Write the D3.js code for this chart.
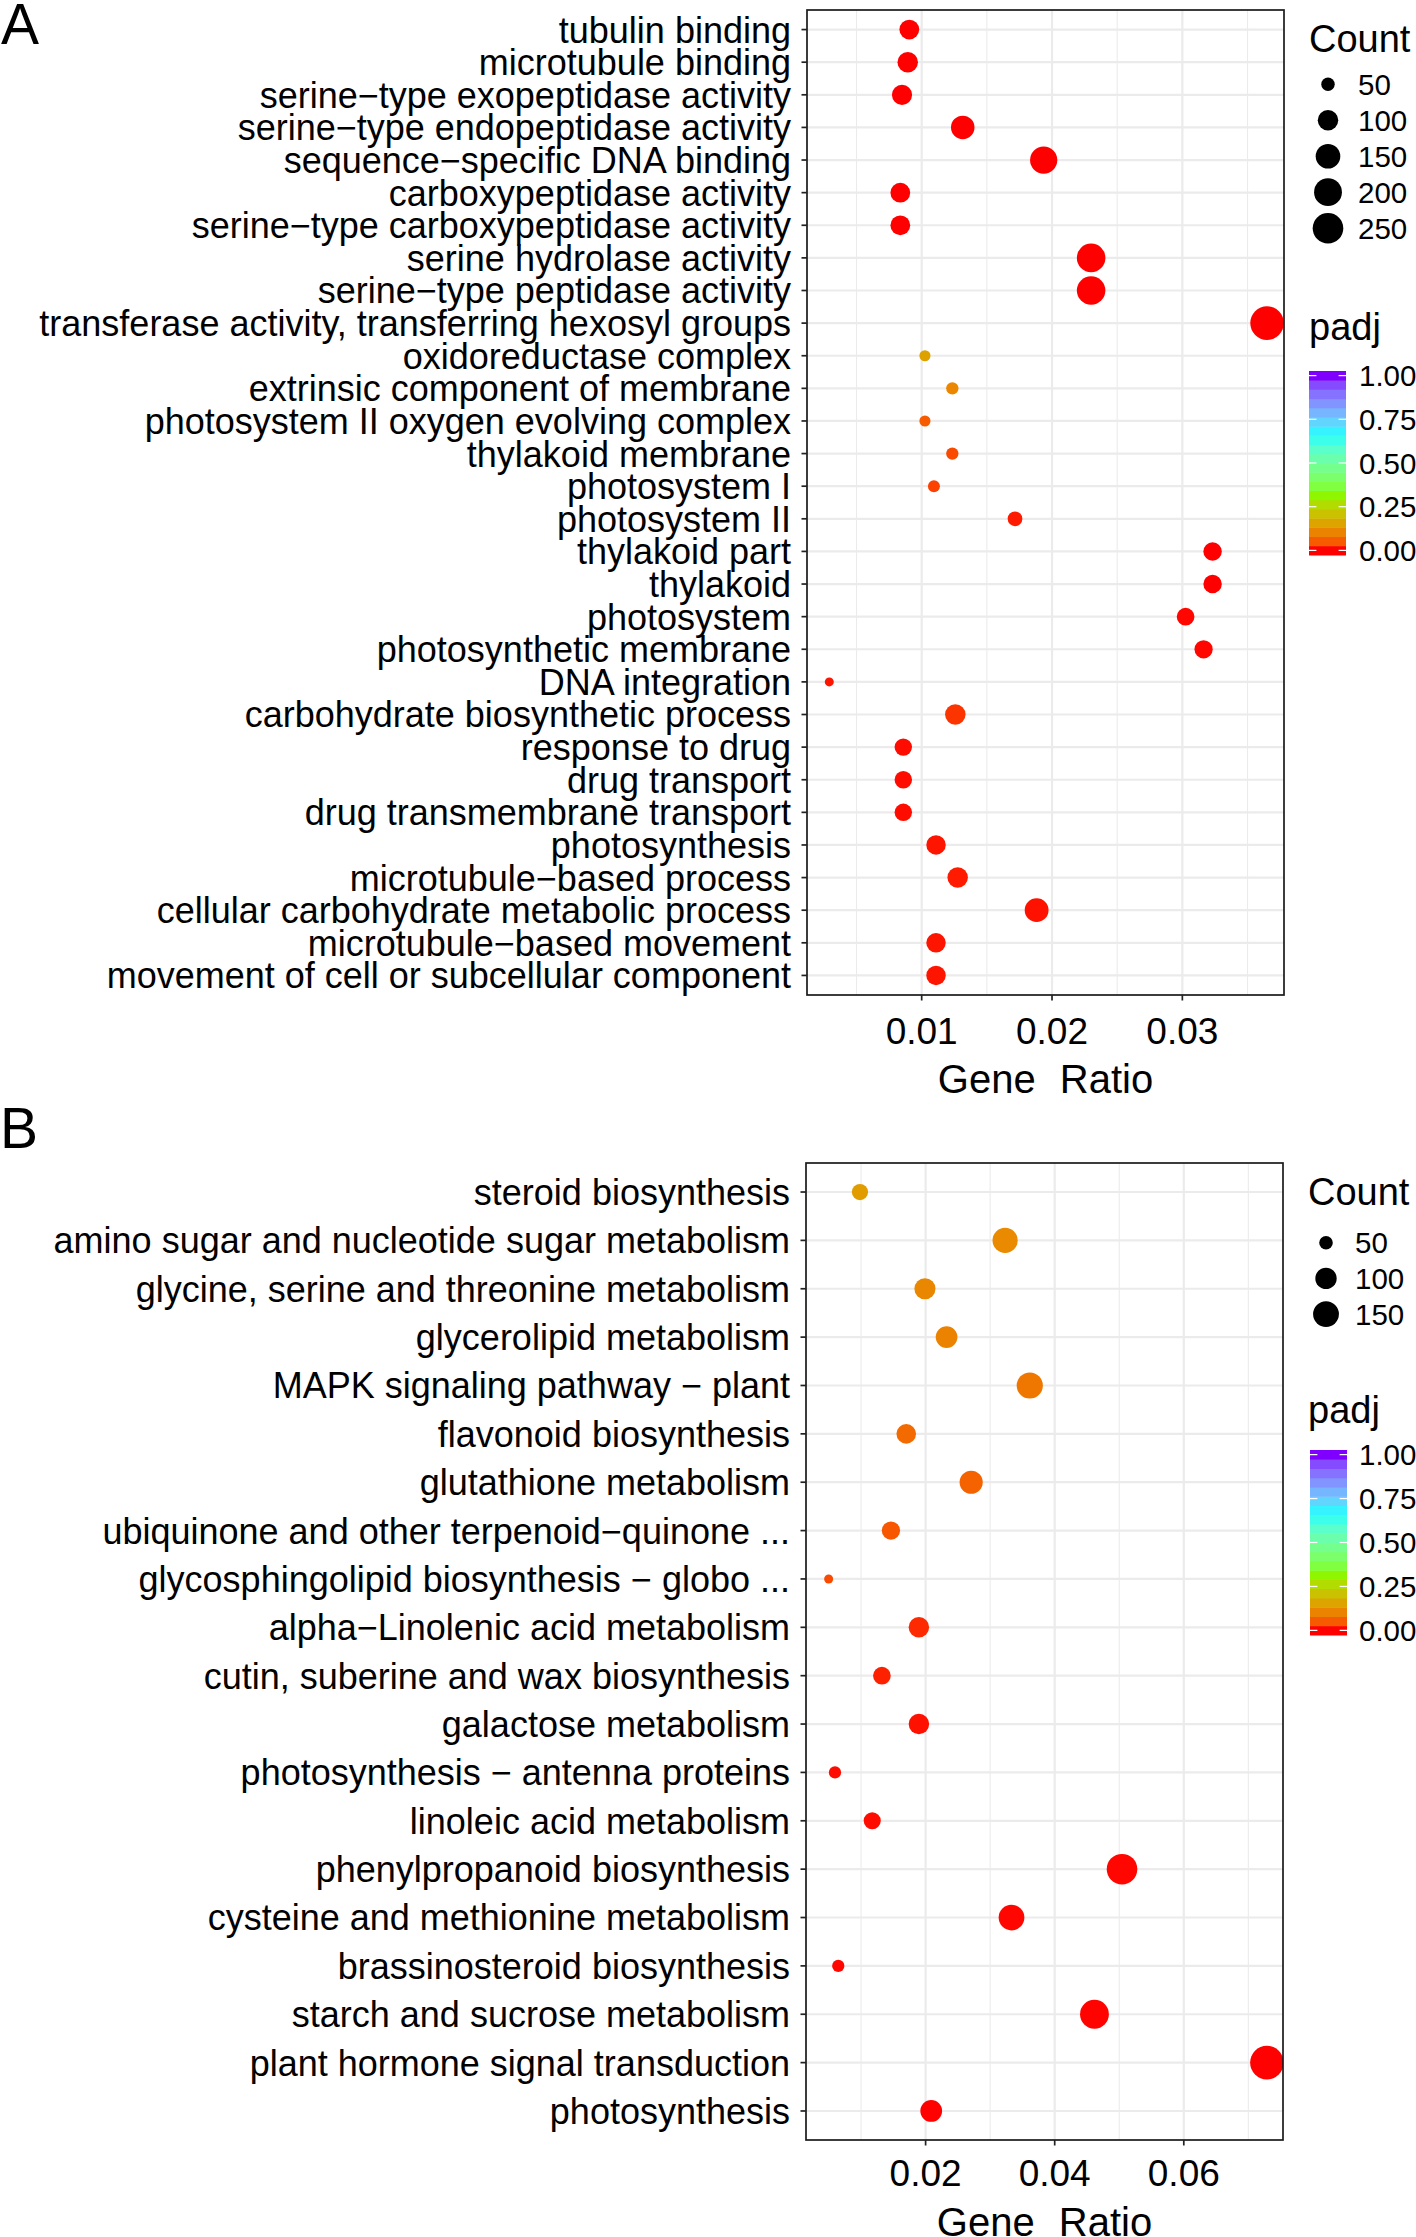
<!DOCTYPE html>
<html><head><meta charset="utf-8">
<script src="https://cdn.jsdelivr.net/npm/d3@7"></script>
<style>
body{margin:0;background:#fff}
svg{display:block}
text{font-family:"Liberation Sans",Arial,Helvetica,sans-serif;fill:#000}
</style>
</head><body>
<svg id="chart" width="1416" height="2237"></svg>
<script>
// ---------------- DATA ----------------
const termsA = [
  "tubulin binding","microtubule binding","serine\u2212type exopeptidase activity",
  "serine\u2212type endopeptidase activity","sequence\u2212specific DNA binding","carboxypeptidase activity",
  "serine\u2212type carboxypeptidase activity","serine hydrolase activity","serine\u2212type peptidase activity",
  "transferase activity, transferring hexosyl groups","oxidoreductase complex","extrinsic component of membrane",
  "photosystem II oxygen evolving complex","thylakoid membrane","photosystem I","photosystem II",
  "thylakoid part","thylakoid","photosystem","photosynthetic membrane","DNA integration",
  "carbohydrate biosynthetic process","response to drug","drug transport","drug transmembrane transport",
  "photosynthesis","microtubule\u2212based process","cellular carbohydrate metabolic process",
  "microtubule\u2212based movement","movement of cell or subcellular component"
];
const ratioA = [0.00905,0.00893,0.00849,0.01315,0.01936,0.00836,0.00836,0.0230,0.0230,0.0365,
  0.01025,0.01235,0.01025,0.01235,0.01094,0.01716,0.03232,0.03232,0.03025,0.03163,
  0.00291,0.01258,0.00859,0.00859,0.00859,0.0111,0.01276,0.01882,0.0111,0.0111];
const countA = [93,100,97,135,190,93,93,212,212,312,
  43,46,43,46,45,56,81,81,75,79,
  41,100,73,73,73,90,100,139,90,90];
const padjA = [0,0,0,0,0,0,0,0,0,0,
  0.155,0.11,0.052,0.035,0.028,0.006,0,0,0.001,0.001,
  0.004,0.018,0.002,0.002,0.002,0.004,0.006,0.003,0.004,0.004];
const xTicksA = [0.01,0.02,0.03];
const xMinorA = [0.005,0.015,0.025,0.035];
const countBreaksA = [50,100,150,200,250];

const termsB = [
  "steroid biosynthesis","amino sugar and nucleotide sugar metabolism","glycine, serine and threonine metabolism",
  "glycerolipid metabolism","MAPK signaling pathway \u2212 plant","flavonoid biosynthesis","glutathione metabolism",
  "ubiquinone and other terpenoid\u2212quinone ...","glycosphingolipid biosynthesis \u2212 globo ...",
  "alpha\u2212Linolenic acid metabolism","cutin, suberine and wax biosynthesis","galactose metabolism",
  "photosynthesis \u2212 antenna proteins","linoleic acid metabolism","phenylpropanoid biosynthesis",
  "cysteine and methionine metabolism","brassinosteroid biosynthesis","starch and sucrose metabolism",
  "plant hormone signal transduction","photosynthesis"
];
const ratioB = [0.00983,0.03232,0.0199,0.02325,0.03614,0.0170,0.02706,0.01463,0.00498,0.01896,
  0.01323,0.01896,0.00596,0.01173,0.05043,0.03331,0.00647,0.04616,0.07288,0.02087];
const countB = [62,142,98,104,155,85,118,75,42,92,71,92,46,67,219,149,46,192,273,104];
const padjB = [0.145,0.115,0.112,0.105,0.088,0.070,0.060,0.048,0.035,0.012,
  0.008,0.003,0.002,0.002,0.001,0.001,0.001,0.0005,0.0002,0.0001];
const xTicksB = [0.02,0.04,0.06];
const xMinorB = [0.01,0.03,0.05,0.07];
const countBreaksB = [50,100,150];

const padjBreaks = [0,0.25,0.5,0.75,1];
const padjColours = ["#FF0000","#80FF00","#00FFFF","#8000FF"]; // rainbow(4)

// ---------------- LAYOUT ----------------
const svg = d3.select("#chart");
const R_MIN = 4.5, R_MAX = 16.8;
const colour = d3.scaleLinear().domain([0,1/3,2/3,1]).range(padjColours).interpolate(d3.interpolateLab);

const panels = [
  {id:"A", terms:termsA, ratio:ratioA, count:countA, padj:padjA, ticks:xTicksA, minor:xMinorA, breaks:countBreaksA,
   left:807, right:1284, top:10, bottom:995, xdom:[0.0012,0.0378],
   labelX:791, tickBase:1044, titleBase:1093, tag:[1,43.5],
   legX:1309, countTitle:52, key0:84.2, keyStep:36, keyCx:1328, keyLx:1358,
   padjTitle:340, barTop:371, barBot:555, barX:1309, barW:37, barLx:1359},
  {id:"B", terms:termsB, ratio:ratioB, count:countB, padj:padjB, ticks:xTicksB, minor:xMinorB, breaks:countBreaksB,
   left:806, right:1283, top:1163, bottom:2140, xdom:[0.00147,0.07537],
   labelX:790, tickBase:2186, titleBase:2236, tag:[0,1148],
   legX:1308, countTitle:1205, key0:1242.7, keyStep:35.7, keyCx:1326, keyLx:1355,
   padjTitle:1423, barTop:1450, barBot:1635, barX:1310, barW:37, barLx:1359}
];

panels.forEach(p => {
  const g = svg.append("g");
  const x = d3.scaleLinear().domain(p.xdom).range([p.left, p.right]);
  const y = d3.scalePoint().domain(p.terms).range([p.top, p.bottom]).padding(0.6);
  const ext = d3.extent(p.count);
  const tc = d3.scaleLinear().domain(ext).range([0,1]).clamp(true);
  const rs = d3.scaleLinear().domain([0,1]).range([R_MIN, R_MAX]);
  const rad = c => rs(Math.sqrt(tc(c)));

  const clipId = "clip" + p.id;
  g.append("clipPath").attr("id", clipId).append("rect")
    .attr("x", p.left).attr("y", p.top).attr("width", p.right - p.left).attr("height", p.bottom - p.top);

  g.selectAll(".minor").data(p.minor).join("line")
    .attr("x1", d => x(d)).attr("x2", d => x(d)).attr("y1", p.top).attr("y2", p.bottom)
    .attr("stroke", "#EBEBEB").attr("stroke-width", 1.1);
  g.selectAll(".majx").data(p.ticks).join("line")
    .attr("x1", d => x(d)).attr("x2", d => x(d)).attr("y1", p.top).attr("y2", p.bottom)
    .attr("stroke", "#EBEBEB").attr("stroke-width", 2.2);
  g.selectAll(".majy").data(p.terms).join("line")
    .attr("x1", p.left).attr("x2", p.right).attr("y1", d => y(d)).attr("y2", d => y(d))
    .attr("stroke", "#EBEBEB").attr("stroke-width", 2.2);

  const pts = p.terms.map((t, i) => ({t, r: p.ratio[i], c: p.count[i], q: p.padj[i]}));
  g.append("g").attr("clip-path", `url(#${clipId})`)
    .selectAll("circle").data(pts).join("circle")
    .attr("cx", d => x(d.r)).attr("cy", d => y(d.t)).attr("r", d => rad(d.c))
    .attr("fill", d => colour(d.q));

  g.append("rect").attr("x", p.left).attr("y", p.top)
    .attr("width", p.right - p.left).attr("height", p.bottom - p.top)
    .attr("fill", "none").attr("stroke", "#1a1a1a").attr("stroke-width", 1.7);

  g.selectAll(".yt").data(p.terms).join("line")
    .attr("x1", p.left - 5.5).attr("x2", p.left).attr("y1", d => y(d)).attr("y2", d => y(d))
    .attr("stroke", "#222").attr("stroke-width", 1.7);
  g.selectAll(".yl").data(p.terms).join("text")
    .attr("x", p.labelX).attr("y", d => y(d)).attr("dy", "0.36em")
    .attr("text-anchor", "end").style("font-size", "36px").text(d => d);

  g.selectAll(".xt").data(p.ticks).join("line")
    .attr("x1", d => x(d)).attr("x2", d => x(d)).attr("y1", p.bottom).attr("y2", p.bottom + 5.5)
    .attr("stroke", "#222").attr("stroke-width", 1.7);
  g.selectAll(".xl").data(p.ticks).join("text")
    .attr("x", d => x(d)).attr("y", p.tickBase).attr("text-anchor", "middle")
    .style("font-size", "37px").text(d => d3.format(".2f")(d));
  g.append("text").attr("x", (p.left + p.right) / 2).attr("y", p.titleBase)
    .attr("text-anchor", "middle").style("font-size", "40px").style("word-spacing", "13px")
    .text("Gene Ratio");

  g.append("text").attr("x", p.tag[0]).attr("y", p.tag[1]).style("font-size", "57px").text(p.id);

  g.append("text").attr("x", p.legX).attr("y", p.countTitle).style("font-size", "38px").text("Count");
  const keys = g.selectAll(".key").data(p.breaks).join("g");
  keys.append("circle").attr("cx", p.keyCx).attr("cy", (d, i) => p.key0 + i * p.keyStep)
    .attr("r", d => rad(d)).attr("fill", "#000");
  keys.append("text").attr("x", p.keyLx).attr("y", (d, i) => p.key0 + i * p.keyStep).attr("dy", "0.36em")
    .style("font-size", "29.5px").text(d => d);

  g.append("text").attr("x", p.legX).attr("y", p.padjTitle).style("font-size", "38px").text("padj");
  const nbin = 20;
  const bins = d3.range(nbin).map(i => i / (nbin - 1));
  const half = 0.5 / (nbin - 1);
  const cy = d3.scaleLinear().domain([-half, 1 + half]).range([p.barBot, p.barTop]);
  g.selectAll(".bin").data(bins).join("rect")
    .attr("x", p.barX).attr("width", p.barW)
    .attr("y", d => cy(d + half)).attr("height", d => cy(d - half) - cy(d + half) + 0.5)
    .attr("fill", d => colour(d));
  const tw = p.barW / 5;
  g.selectAll(".cbtl").data(padjBreaks).join("line")
    .attr("x1", p.barX).attr("x2", p.barX + tw).attr("y1", d => cy(d)).attr("y2", d => cy(d))
    .attr("stroke", "#fff").attr("stroke-width", 1.2);
  g.selectAll(".cbtr").data(padjBreaks).join("line")
    .attr("x1", p.barX + p.barW - tw).attr("x2", p.barX + p.barW).attr("y1", d => cy(d)).attr("y2", d => cy(d))
    .attr("stroke", "#fff").attr("stroke-width", 1.2);
  g.selectAll(".cbl").data(padjBreaks).join("text")
    .attr("x", p.barLx).attr("y", d => cy(d)).attr("dy", "0.36em")
    .style("font-size", "29.5px").text(d => d3.format(".2f")(d));
});
</script>
</body></html>
